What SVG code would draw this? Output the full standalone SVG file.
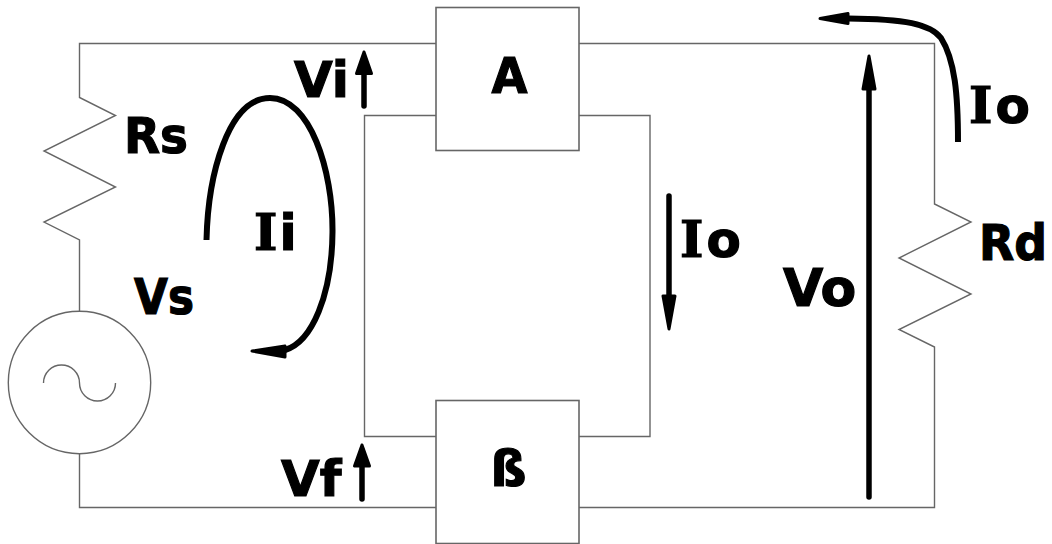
<svg xmlns="http://www.w3.org/2000/svg" width="1052" height="544" viewBox="0 0 1052 544">
<style>
.w{fill:none;stroke:#666;stroke-width:1.4;stroke-linejoin:miter}
.box{fill:#fff;stroke:#666;stroke-width:1.6}
.a{fill:none;stroke:#000;stroke-width:5.5;stroke-linecap:round}
.c{fill:none;stroke:#000;stroke-width:6}
.h{fill:#000;stroke:#000;stroke-width:3;stroke-linejoin:round}
text{font-family:"DejaVu Sans",sans-serif;font-weight:700;fill:#000;stroke:#000;stroke-width:1.2;font-size:50px}
.s{font-family:"DejaVu Serif",serif}
.vo{font-size:52px}
</style>
<rect width="1052" height="544" fill="#fff"/>
<g id="connectors">
<path class="w" d="M436 43.500H79.500V97.500L115.500 115.500L44 151L115.500 187L44 222L79.500 240V311"/>
<path class="w" d="M79.500 454V507.500H436"/>
<path class="w" d="M436 115.500H364.500V436.500H436"/>
<path class="w" d="M579 43.500H934.500V204L971 222L899 258L971 294L899 329.500L934.500 347V507.500H579"/>
<path class="w" d="M579 115.500H650V436.500H579"/>
</g>
<g id="node-vs"><circle class="w" cx="79.500" cy="382.500" r="71.200"/>
<path class="w" d="M43.500 383A18 18 0 0 1 79.500 383A18 18 0 0 0 115.500 383"/>
<text x="134" y="314" textLength="60" lengthAdjust="spacingAndGlyphs">Vs</text></g>
<g id="node-rs"><text x="124" y="153" textLength="64" lengthAdjust="spacingAndGlyphs">Rs</text></g>
<g id="node-rd"><text x="979" y="260" textLength="68" lengthAdjust="spacingAndGlyphs">Rd</text></g>
<g id="node-a"><rect class="box" x="436" y="7.500" width="143" height="143"/><text x="509.500" y="93" text-anchor="middle" textLength="36" lengthAdjust="spacingAndGlyphs">A</text></g>
<g id="node-b"><rect class="box" x="436" y="400.500" width="143" height="143"/><text x="508.500" y="486" text-anchor="middle">ß</text></g>
<g id="arrows">
<path class="a" d="M364 106V72"/><path class="h" d="M364 52L356.500 73.500H371.500Z"/>
<path class="a" d="M362 499V465"/><path class="h" d="M362 445L354.500 466H369.500Z"/>
<path class="a" d="M669 196V296"/><path class="h" d="M669 329L663 296H675Z"/>
<path class="a" d="M869 497V90"/><path class="h" d="M869 56L863 89H875Z"/>
<path class="c" d="M958 142C958 95 955 60 941 38C930 24 905 19 848 18.500"/>
<path class="h" d="M820 18.500L848 13.500V23.500Z"/>
<path class="c" d="M206.500 240C208 175 228 98 270 98C310 98 333 170 332.500 232C332 295 312 342 285 350"/>
<path class="h" d="M252 351L285 346V357Z"/>
</g>
<g id="labels">
<text x="294" y="97">Vi</text>
<text x="254" y="250"><tspan class="s">I</tspan><tspan dx="2">i</tspan></text>
<text x="281" y="496">Vf</text>
<text x="680" y="257"><tspan class="s">I</tspan><tspan dx="3">o</tspan></text>
<text x="969" y="123"><tspan class="s">I</tspan><tspan dx="3">o</tspan></text>
<text class="vo" x="783" y="306">Vo</text>
</g>
</svg>
